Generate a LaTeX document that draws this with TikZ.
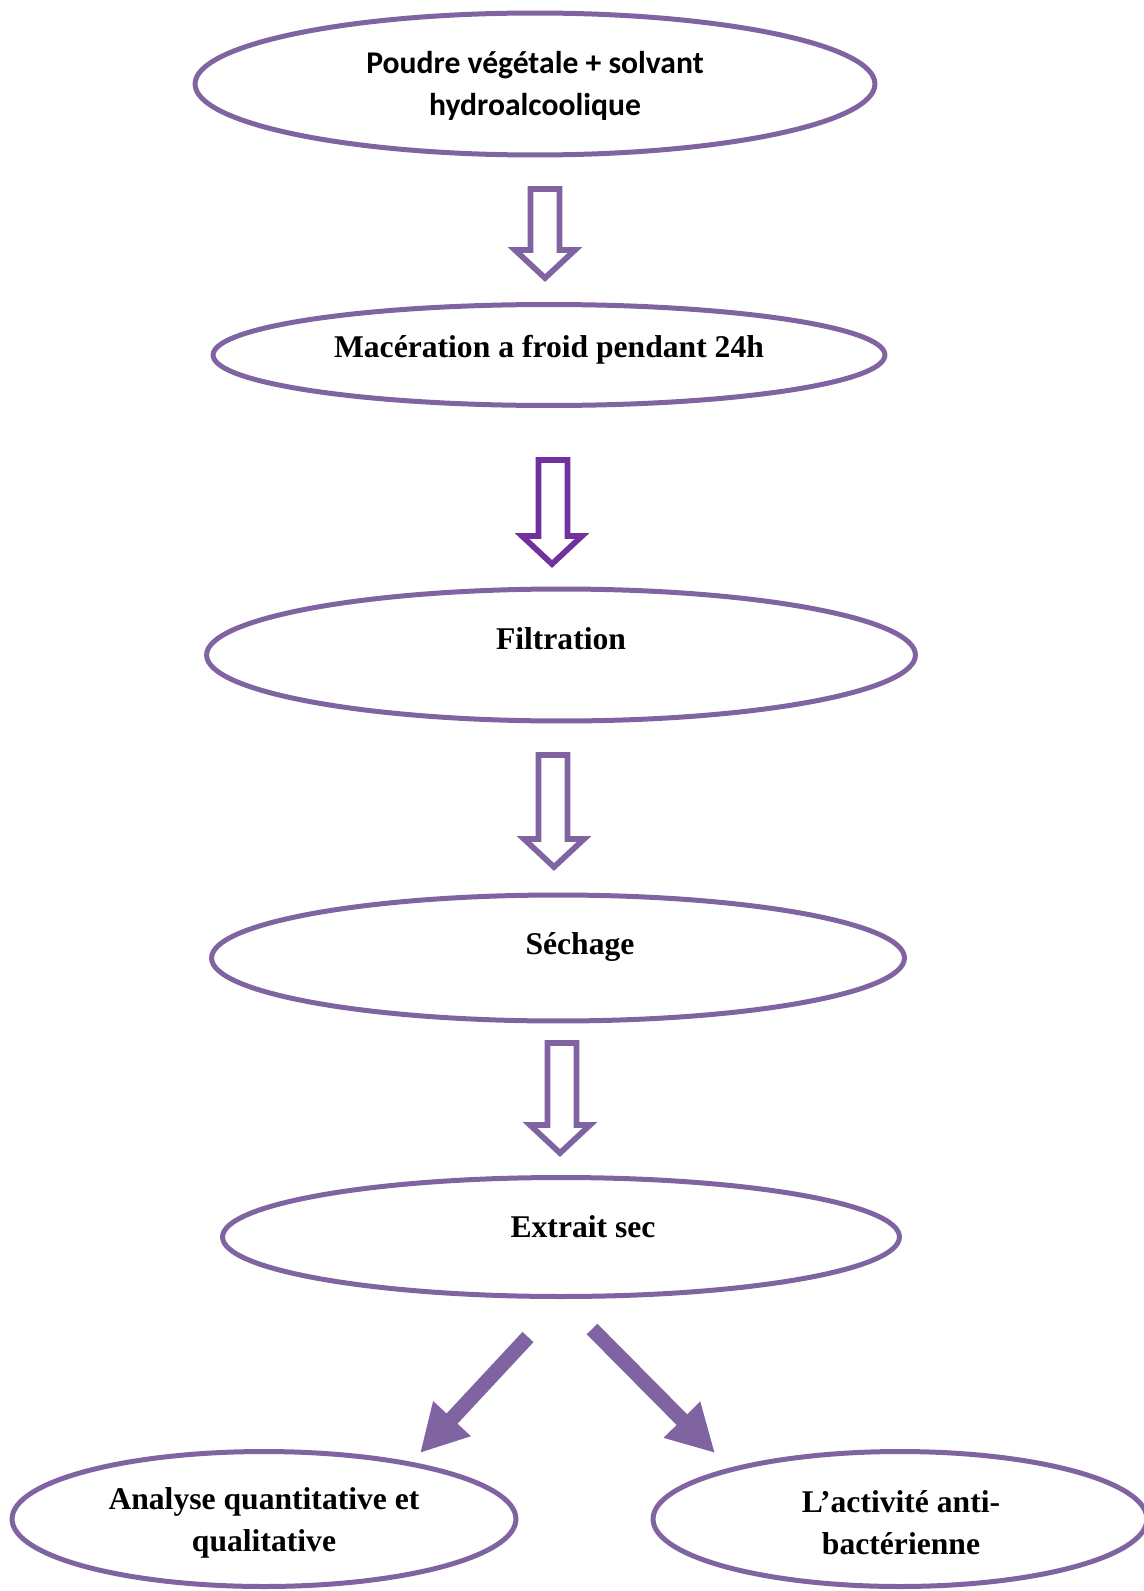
\documentclass[tikz,border=0pt]{standalone}
\usepackage{fontspec}
\setmainfont{Liberation Serif}
\newfontfamily\calibri{Carlito}
\usetikzlibrary{shapes.geometric,arrows.meta,calc}
\definecolor{lilas}{HTML}{8064A2}
\definecolor{violetfonce}{HTML}{7030A0}
\begin{document}
\begin{tikzpicture}[x=0.02cm, y=-0.02cm,
	etape/.style={draw=lilas, line width=0.1cm, ellipse, inner sep=0pt},
	texte/.style={font=\bfseries\fontsize{18}{24}\selectfont, align=center, inner sep=0pt},
	creux/.style={draw=#1, line width=0.115cm, fill=white, line join=miter,
		to path={let \p1=(\tikztostart), \p2=(\tikztotarget) in
			(\x1-0.29cm,\y1) -- (\x1+0.29cm,\y1) -- (\x1+0.29cm,\y2+0.56cm) -- (\x2+0.6cm,\y2+0.56cm)
			-- (\x2,\y2) -- (\x2-0.6cm,\y2+0.56cm) -- (\x1-0.29cm,\y2+0.56cm) -- cycle}},
	creux/.default=lilas,
	plein/.style={draw=lilas, line width=0.3cm, -{Triangle[length=0.94cm,width=0.96cm]}}]
		\useasboundingbox (0,0) rectangle (1143,1591);
		\node[etape, minimum width=13.6cm, minimum height=2.84cm] (poudre) at (535,84) {};
		\node[etape, minimum width=13.44cm, minimum height=2.02cm] (maceration) at (549,355) {};
		\node[etape, minimum width=14.18cm, minimum height=2.64cm] (filtration) at (561,655) {};
		\node[etape, minimum width=13.86cm, minimum height=2.52cm] (sechage) at (558,958) {};
		\node[etape, minimum width=13.54cm, minimum height=2.38cm] (extrait) at (561,1237) {};
		\node[etape, minimum width=10.08cm, minimum height=2.7cm] (analyse) at (264,1519) {};
		\node[etape, minimum width=9.88cm, minimum height=2.7cm] (activite) at (900,1519) {};
		\node[texte] (poudre-t) at (535,86) {\calibri Poudre végétale + solvant\\\calibri hydroalcoolique};
		\node[texte] (maceration-t) at (549,350) {Macération a froid pendant 24h};
		\node[texte] (filtration-t) at (561,639) {Filtration};
		\node[texte] (sechage-t) at (580,947) {Séchage};
		\node[texte] (extrait-t) at (583,1227) {Extrait sec};
		\node[texte] (analyse-t) at (264,1523) {Analyse quantitative et\\qualitative};
		\node[texte] (activite-t) at (901,1523) {L’activité anti-\\bactérienne};
		\coordinate (f1-haut) at (545,189);
		\coordinate (f1-pointe) at (545,278);
		\coordinate (f2-haut) at (553,460);
		\coordinate (f2-pointe) at (552,564);
		\coordinate (f3-haut) at (553,755);
		\coordinate (f3-pointe) at (554,867);
		\coordinate (f4-haut) at (562,1043);
		\coordinate (f4-pointe) at (560,1153);
		\draw[creux] (f1-haut) to (f1-pointe);
		\draw[creux=violetfonce] (f2-haut) to (f2-pointe);
		\draw[creux] (f3-haut) to (f3-pointe);
		\draw[creux] (f4-haut) to (f4-pointe);
		\coordinate (g-depart) at (528,1337);
		\coordinate (g-pointe) at (420,1453);
		\coordinate (d-depart) at (592,1329);
		\coordinate (d-pointe) at (715,1453);
		\draw[plein] (g-depart) -- (g-pointe);
		\draw[plein] (d-depart) -- (d-pointe);
\end{tikzpicture}
\end{document}
